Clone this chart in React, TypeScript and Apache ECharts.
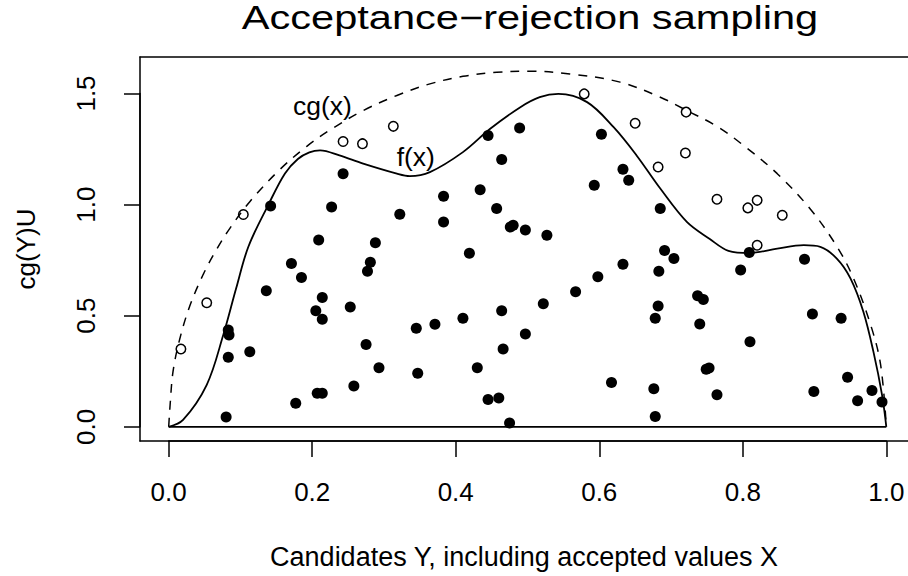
import React, { useEffect, useRef } from 'react';
import * as echarts from 'echarts';

const FONT = '"Liberation Sans", Arial, Helvetica, sans-serif';

const titleText = 'Acceptance\u2212rejection sampling';
const xLabel = 'Candidates Y, including accepted values X';
const yLabel = 'cg(Y)U';

// f(x): target density
const fX = [0, 0.02, 0.053, 0.076, 0.094, 0.111, 0.139, 0.162, 0.18, 0.196, 0.211, 0.238, 0.271, 0.318, 0.336, 0.364, 0.41, 0.448, 0.49, 0.517, 0.543, 0.583, 0.62, 0.652, 0.685, 0.722, 0.754, 0.78, 0.81, 0.848, 0.885, 0.908, 0.931, 0.95, 0.968, 0.982, 0.994, 1.0];
const fY = [0, 0.031, 0.189, 0.413, 0.623, 0.81, 1.0, 1.14, 1.205, 1.235, 1.244, 1.221, 1.184, 1.139, 1.128, 1.146, 1.236, 1.341, 1.438, 1.483, 1.498, 1.461, 1.348, 1.221, 1.072, 0.922, 0.845, 0.792, 0.782, 0.802, 0.817, 0.81, 0.757, 0.668, 0.518, 0.338, 0.144, 0];

// c*g(x): envelope (dashed)
const cgX = [0, 0.002, 0.006, 0.015, 0.029, 0.048, 0.068, 0.085, 0.113, 0.155, 0.192, 0.227, 0.271, 0.318, 0.364, 0.41, 0.457, 0.503, 0.559, 0.629, 0.685, 0.722, 0.764, 0.801, 0.848, 0.894, 0.931, 0.954, 0.978, 0.992, 1.0];
const cgY = [0, 0.1, 0.248, 0.39, 0.54, 0.685, 0.805, 0.892, 1.013, 1.158, 1.261, 1.34, 1.423, 1.491, 1.543, 1.577, 1.595, 1.6, 1.588, 1.551, 1.483, 1.423, 1.352, 1.266, 1.139, 0.98, 0.812, 0.67, 0.46, 0.28, 0];

// baseline of f(x)
const baseX = [0, 1];
const baseY = [0, 0];

// accepted candidates (filled)
const acceptedX = [0.08, 0.083, 0.084, 0.083, 0.113, 0.136, 0.142, 0.171, 0.185, 0.177, 0.209, 0.214, 0.205, 0.214, 0.207, 0.214, 0.227, 0.243, 0.253, 0.258, 0.275, 0.277, 0.281, 0.288, 0.293, 0.322, 0.345, 0.347, 0.371, 0.383, 0.383, 0.41, 0.419, 0.43, 0.434, 0.445, 0.445, 0.457, 0.46, 0.464, 0.464, 0.466, 0.475, 0.476, 0.48, 0.489, 0.497, 0.497, 0.522, 0.527, 0.567, 0.593, 0.598, 0.603, 0.617, 0.633, 0.633, 0.641, 0.676, 0.678, 0.678, 0.682, 0.683, 0.685, 0.691, 0.704, 0.737, 0.745, 0.74, 0.749, 0.753, 0.764, 0.797, 0.809, 0.81, 0.886, 0.897, 0.899, 0.937, 0.946, 0.96, 0.98, 0.994];
const acceptedY = [0.044, 0.436, 0.413, 0.313, 0.338, 0.612, 0.994, 0.735, 0.672, 0.106, 0.841, 0.582, 0.522, 0.484, 0.151, 0.151, 0.989, 1.139, 0.539, 0.184, 0.37, 0.7, 0.74, 0.828, 0.266, 0.956, 0.443, 0.241, 0.461, 1.037, 0.922, 0.488, 0.781, 0.266, 1.067, 1.311, 0.123, 0.982, 0.129, 1.203, 0.522, 0.35, 0.017, 0.899, 0.907, 1.344, 0.885, 0.418, 0.554, 0.862, 0.608, 1.087, 0.675, 1.316, 0.199, 1.159, 0.731, 1.109, 0.171, 0.046, 0.488, 0.543, 0.7, 0.982, 0.793, 0.757, 0.59, 0.573, 0.463, 0.259, 0.264, 0.144, 0.705, 0.784, 0.383, 0.754, 0.507, 0.159, 0.488, 0.223, 0.117, 0.163, 0.112];

// rejected candidates (open)
const rejectedX = [0.017, 0.053, 0.104, 0.243, 0.27, 0.313, 0.579, 0.65, 0.721, 0.72, 0.682, 0.764, 0.807, 0.82, 0.855, 0.82];
const rejectedY = [0.35, 0.558, 0.955, 1.284, 1.274, 1.352, 1.498, 1.366, 1.416, 1.232, 1.169, 1.024, 0.985, 1.019, 0.952, 0.817];

// curve annotations
const annotX = [0.2143, 0.3443];
const annotY = [1.445, 1.212];
const annotText = ['cg(x)', 'f(x)'];

const xTickMin = 0;
const xTickMax = 1;
const xTickStep = 0.2;
const yTickMin = 0;
const yTickMax = 1.5;
const yTickStep = 0.5;

const pairs = (xs: number[], ys: number[]) => xs.map((x, i) => [x, ys[i]]);

export default function App() {
  const ref = useRef<HTMLDivElement>(null);
  useEffect(() => {
    if (!ref.current) return;
    const chart = echarts.init(ref.current, undefined, { renderer: 'svg' });
    const black = '#000';
    const boxLine = { show: true, onZero: false, lineStyle: { color: black, width: 1.5 } };
    chart.setOption({
      animation: false,
      backgroundColor: '#fff',
      textStyle: { fontFamily: FONT },
      grid: [
        { left: 140, top: 57, width: 768, height: 384, show: false },
        { left: 168.7, top: 57, width: 717.6, height: 384, show: false },
        { left: 140, top: 93.5, width: 700, height: 333.3, show: false },
      ],
      xAxis: [
        {
          gridIndex: 0, type: 'value', min: -0.04, max: 1.0302,
          axisLine: boxLine, axisTick: { show: false }, axisLabel: { show: false }, splitLine: { show: false },
          name: xLabel, nameLocation: 'middle', nameGap: 102,
          nameTextStyle: { fontSize: 27, color: black, fontFamily: FONT },
        },
        {
          gridIndex: 1, type: 'value', min: xTickMin, max: xTickMax, interval: xTickStep,
          axisLine: { show: true, onZero: false, lineStyle: { color: black, width: 1.5 } },
          axisTick: { show: true, length: 16, lineStyle: { color: black, width: 1.5 } },
          axisLabel: { show: true, fontSize: 26, color: black, margin: 38, fontFamily: FONT, formatter: (v: number) => v.toFixed(1) },
          splitLine: { show: false },
        },
        { gridIndex: 2, type: 'value', min: 0, max: 1, show: false },
        {
          gridIndex: 0, type: 'value', position: 'top', min: -0.04, max: 1.0302,
          axisLine: boxLine, axisTick: { show: false }, axisLabel: { show: false }, splitLine: { show: false },
        },
      ],
      yAxis: [
        {
          gridIndex: 0, type: 'value', min: -0.064, max: 1.664,
          axisLine: boxLine, axisTick: { show: false }, axisLabel: { show: false }, splitLine: { show: false },
          name: yLabel, nameLocation: 'middle', nameGap: 101,
          nameTextStyle: { fontSize: 26, color: black, fontFamily: FONT },
        },
        { gridIndex: 1, type: 'value', min: 0, max: 1, show: false },
        {
          gridIndex: 2, type: 'value', min: yTickMin, max: yTickMax, interval: yTickStep,
          axisLine: { show: true, onZero: false, lineStyle: { color: black, width: 1.5 } },
          axisTick: { show: true, length: 16, lineStyle: { color: black, width: 1.5 } },
          axisLabel: { show: true, fontSize: 26, color: black, margin: 41, rotate: 90, fontFamily: FONT, formatter: (v: number) => v.toFixed(1) },
          splitLine: { show: false },
        },
      ],
      graphic: [
        {
          type: 'text', x: 530, y: 17.5, scaleX: 1.26,
          style: { text: titleText, font: `33px ${FONT}`, fill: black, textAlign: 'center', textVerticalAlign: 'middle', align: 'center', verticalAlign: 'middle' },
        },
      ],
      series: [
        { type: 'line', xAxisIndex: 1, yAxisIndex: 1, data: [] },
        { type: 'line', xAxisIndex: 2, yAxisIndex: 2, data: [] },
        { type: 'line', xAxisIndex: 3, yAxisIndex: 0, data: [] },
        {
          name: 'cg(x)', type: 'line', xAxisIndex: 0, yAxisIndex: 0, data: pairs(cgX, cgY),
          symbol: 'none', showSymbol: false, smooth: 0.35, silent: true,
          lineStyle: { color: black, width: 1.5, type: [9, 8], opacity: 1 },
        },
        {
          name: 'f(x)', type: 'line', xAxisIndex: 0, yAxisIndex: 0, data: pairs(fX, fY),
          symbol: 'none', showSymbol: false, smooth: 0.35, silent: true,
          lineStyle: { color: black, width: 1.8, opacity: 1 },
        },
        {
          name: 'base', type: 'line', xAxisIndex: 0, yAxisIndex: 0, data: pairs(baseX, baseY),
          symbol: 'none', showSymbol: false, silent: true,
          lineStyle: { color: black, width: 1.8, opacity: 1 },
        },
        {
          name: 'accepted', type: 'scatter', xAxisIndex: 0, yAxisIndex: 0, data: pairs(acceptedX, acceptedY),
          symbol: 'circle', symbolSize: 11, silent: true,
          itemStyle: { color: black, opacity: 1 },
        },
        {
          name: 'rejected', type: 'scatter', xAxisIndex: 0, yAxisIndex: 0, data: pairs(rejectedX, rejectedY),
          symbol: 'circle', symbolSize: 9.5, silent: true,
          itemStyle: { color: 'rgba(0,0,0,0)', borderColor: black, borderWidth: 1.5, opacity: 1 },
        },
        {
          name: 'labels', type: 'scatter', xAxisIndex: 0, yAxisIndex: 0, data: pairs(annotX, annotY),
          symbol: 'circle', symbolSize: 1, silent: true,
          itemStyle: { color: 'rgba(0,0,0,0)', opacity: 1 },
          label: {
            show: true, position: 'inside', color: black, fontSize: 26.5, fontFamily: FONT, opacity: 1,
            formatter: (p: any) => annotText[p.dataIndex],
          },
        },
      ],
    });
    return () => chart.dispose();
  }, []);
  return (
    <div
      ref={ref}
      style={{ position: 'absolute', left: 0, top: 0, width: 908, height: 576, background: '#fff' }}
    />
  );
}
